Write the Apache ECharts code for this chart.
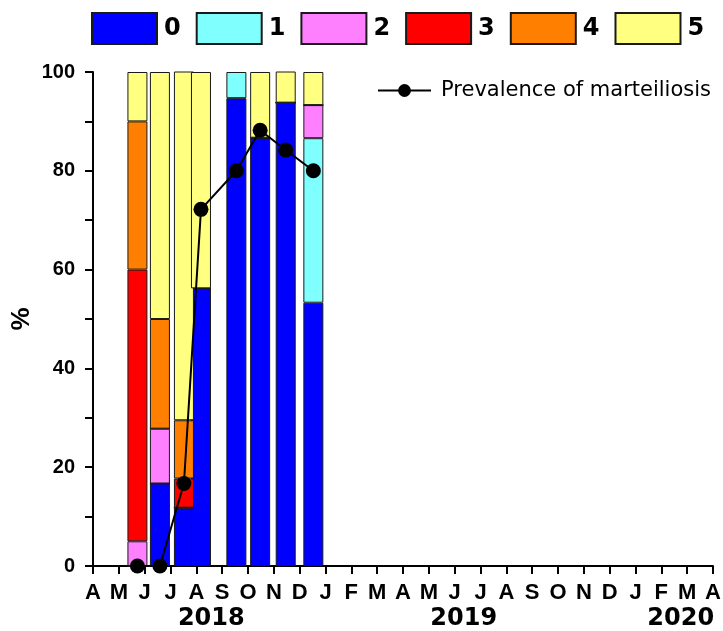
<!DOCTYPE html>
<html>
<head>
<meta charset="utf-8">
<script src="https://cdn.jsdelivr.net/npm/echarts@6/dist/echarts.min.js"></script>
<style>
  html, body { margin: 0; padding: 0; background: #fff; }
  #chart { width: 723px; height: 631px; }
</style>
</head>
<body>
<div id="chart"></div>
<script>
// Month tick labels, April 2018 through April 2020 (one tick per month start)
const monthLabels = ['A','M','J','J','A','S','O','N','D','J','F','M','A','M','J','J','A','S','O','N','D','J','F','M','A'];
// Year captions and the month position they sit under
const yearLabels = ['2018', '2019', '2020'];
const yearPositions = [4.58, 14.35, 22.75];

// Sampling dates, in months since 1 April 2018
const sampleMonths = [1.72, 2.59, 3.52, 4.18, 5.55, 6.47, 7.46, 8.53];

// Percentage of oysters in each stage (0-5) per sample
const stage0 = [0, 16.7, 11.8, 56.2, 94.7, 86.7, 93.8, 53.3];
const stage1 = [0, 0, 0, 0, 5.3, 0, 0, 33.3];
const stage2 = [5, 11.1, 0, 0, 0, 0, 0, 6.7];
const stage3 = [55, 0, 5.9, 0, 0, 0, 0, 0];
const stage4 = [30, 22.2, 11.8, 0, 0, 0, 0, 0];
const stage5 = [10, 50, 70.8, 43.8, 0, 13.3, 6.5, 6.7];

// Prevalence of marteiliosis (%)
const prevalence = [0, 0, 16.7, 72.2, 80, 88.2, 84.2, 80];

const stageNames = ['0', '1', '2', '3', '4', '5'];
const stageValues = [stage0, stage1, stage2, stage3, stage4, stage5];
const stageColors = ['#0000ff', '#80ffff', '#ff80ff', '#ff0000', '#ff8000', '#ffff80'];

const ARIAL = '"Liberation Sans", Arial, sans-serif';
const WIDE = '"DejaVu Sans", Verdana, sans-serif';

// Percent is stored first so that the stack accumulates on the y values
// (both axes are numeric, and ECharts stacks the first numeric column).
const barSeries = stageNames.map((name, i) => ({
  name: name,
  type: 'bar',
  stack: 'stage',
  barWidth: 20,
  encode: { x: 1, y: 0 },
  data: sampleMonths.map((m, j) => [stageValues[i][j], m]),
  itemStyle: { color: stageColors[i], borderColor: '#1a1a1a', borderWidth: 1 },
  emphasis: { disabled: true }
}));

const lineSeries = {
  name: 'Prevalence of marteiliosis',
  type: 'line',
  z: 10,
  data: sampleMonths.map((m, j) => [m, prevalence[j]]),
  symbol: 'circle',
  symbolSize: 15,
  lineStyle: { color: '#000', width: 2 },
  itemStyle: { color: '#000' },
  emphasis: { disabled: true }
};

const chart = echarts.init(document.getElementById('chart'), null, { renderer: 'canvas' });
chart.setOption({
  animation: false,
  backgroundColor: '#fff',
  grid: { left: 93, right: 10, top: 72, bottom: 65, containLabel: false, outerBoundsMode: 'none' },
  legend: [
    {
      data: stageNames,
      left: 91, top: 12, padding: 0,
      itemWidth: 65, itemHeight: 31, itemGap: 15,
      icon: 'rect',
      textStyle: { fontFamily: WIDE, fontWeight: 'bold', fontSize: 24, color: '#000', padding: [0, 0, 0, 2] },
      selectedMode: false
    },
    {
      data: ['Prevalence of marteiliosis'],
      left: 377, top: 80, padding: 0,
      itemWidth: 53, itemHeight: 16,
      textStyle: { fontFamily: WIDE, fontSize: 21, color: '#000', padding: [0, 0, 0, 5] },
      selectedMode: false
    }
  ],
  xAxis: [
    {
      type: 'value',
      min: 0, max: 24, interval: 1,
      axisLine: { show: true, onZero: false, lineStyle: { color: '#000', width: 2 } },
      axisTick: { show: true, length: 8, lineStyle: { color: '#000', width: 2 } },
      splitLine: { show: false },
      axisLabel: {
        margin: 16,
        fontFamily: ARIAL, fontWeight: 'bold', fontSize: 22, color: '#000',
        formatter: v => monthLabels[Math.round(v)] || ''
      }
    },
    {
      type: 'value',
      position: 'bottom',
      min: 0, max: 24,
      axisLine: { show: false },
      axisTick: { show: false },
      splitLine: { show: false },
      axisLabel: {
        margin: 41,
        customValues: yearPositions,
        fontFamily: WIDE, fontWeight: 'bold', fontSize: 24, color: '#000',
        formatter: v => {
          const k = yearPositions.indexOf(v);
          return k >= 0 ? yearLabels[k] : '';
        }
      }
    }
  ],
  yAxis: {
    type: 'value',
    min: 0, max: 100, interval: 10,
    name: '%',
    nameLocation: 'middle',
    nameGap: 58,
    nameRotate: 90,
    nameMoveOverlap: false,
    nameTextStyle: { fontFamily: ARIAL, fontWeight: 'bold', fontSize: 26, color: '#000' },
    axisLine: { show: true, lineStyle: { color: '#000', width: 2 } },
    axisTick: { show: true, length: 8, lineStyle: { color: '#000', width: 2 } },
    splitLine: { show: false },
    axisLabel: {
      margin: 18,
      fontFamily: ARIAL, fontWeight: 'bold', fontSize: 20, color: '#000',
      formatter: v => (v % 20 === 0 ? String(v) : '')
    }
  },
  series: barSeries.concat([lineSeries])
});
</script>
</body>
</html>
